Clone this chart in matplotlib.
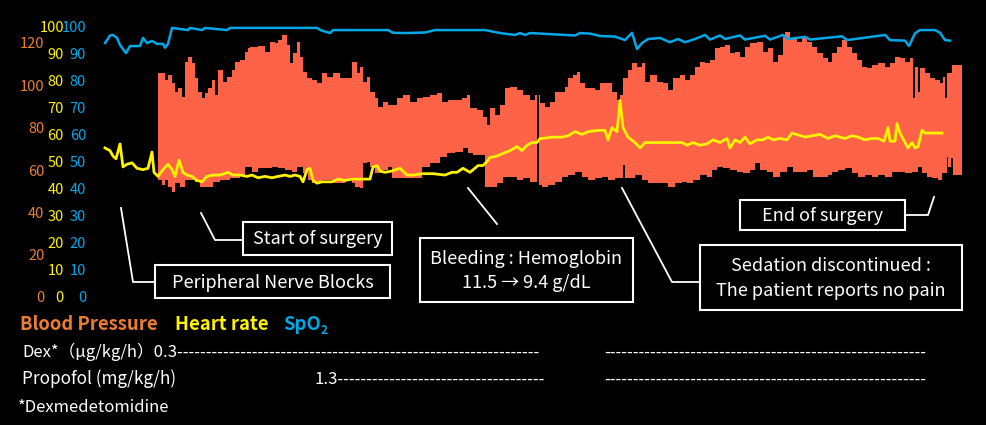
import numpy as np
import matplotlib.pyplot as plt
from matplotlib.lines import Line2D
from matplotlib.patches import Rectangle

plt.rcParams['font.family'] = ['Noto Sans CJK JP', 'DejaVu Sans']

# time (arbitrary units along the record)
hr_t = [0, 5, 8, 11, 15, 18, 22, 27, 32, 38, 43, 47, 49, 53, 58, 63, 67, 70, 74, 78,
        82, 87, 92, 97, 102, 108, 115, 123, 128, 135, 142, 147, 153, 160, 167, 173, 180, 185, 190, 195,
        198, 202, 205, 208, 212, 217, 227, 233, 240, 247, 253, 265, 268, 272, 275, 280, 287, 295, 302, 308,
        317, 328, 340, 347, 352, 358, 365, 373, 378, 382, 385, 392, 398, 405, 412, 417, 422, 427, 432, 435,
        437, 447, 457, 463, 470, 477, 483, 493, 500, 503, 507, 512, 515, 518, 523, 530, 535, 540, 550, 563,
        577, 582, 588, 595, 602, 608, 615, 622, 625, 630, 635, 640, 645, 652, 658, 663, 668, 675, 682, 687,
        693, 700, 707, 715, 723, 730, 740, 747, 753, 760, 767, 773, 779, 783, 785, 790, 792, 795, 800, 803,
        807, 810, 813, 817, 820, 837]
heart_rate = [55, 54, 52, 51, 56.5, 48, 49, 49.5, 47.5, 47, 47.5, 53.5, 46, 44.5, 47, 49, 47, 44.5, 50.5, 46,
              45, 44.5, 43, 42.5, 44.5, 45, 45, 46, 45, 45, 44.5, 45, 44, 44.5, 44, 44.5, 45, 44.5, 45, 44.5,
              42.5, 47, 47.5, 43, 42, 42.5, 42.5, 43.5, 43, 43.5, 43.5, 43.5, 48, 48.5, 46.5, 46, 46.5, 47.5, 45, 45,
              45.5, 45.5, 45, 46, 46, 47.5, 46, 48.5, 48.5, 50, 51.5, 52, 53, 54, 55.5, 54, 56, 57, 57, 58.5,
              58.5, 59, 59, 59.5, 61, 60, 61, 61.5, 61.5, 58, 62.5, 61, 72.5, 62.5, 59, 57, 55, 57, 57, 57,
              57, 56, 57, 56, 56.5, 58, 57, 58.5, 55, 58, 57, 59, 56.5, 58, 58, 59, 58, 58.5, 58, 60.5,
              59.8, 59, 59.5, 60, 58.5, 59.5, 58.5, 59.5, 59, 58, 58.5, 58.5, 57.5, 62.5, 57.5, 57.5, 64, 60.5, 57, 55,
              57, 55, 55.5, 61.5, 60.5, 60.5]

spo2_t = [0, 5, 8, 12, 15, 21, 25, 35, 38, 42, 47, 52, 58, 60, 63, 67, 83, 85, 97, 100,
          122, 125, 212, 216, 225, 228, 283, 288, 300, 320, 330, 380, 395, 410, 415, 420, 425, 470, 475, 485,
          495, 510, 520, 527, 532, 537, 543, 555, 565, 573, 580, 590, 600, 605, 615, 620, 635, 640, 660, 665,
          678, 683, 700, 705, 737, 742, 780, 785, 800, 804, 810, 815, 830, 835, 840, 845]
spo2 = [93.7, 96.5, 96.7, 95.6, 93, 90, 92.6, 92.6, 95.6, 93.7, 94.5, 93.4, 93.4, 92, 93.4, 99.3, 98.5, 99.3, 98.5, 99.3,
        98.5, 99.3, 99.3, 98.4, 97.4, 98.5, 98.5, 97.5, 97.4, 97.6, 98.5, 98.5, 97.4, 96.7, 97.4, 96.7, 97.4, 96.5, 97.4, 97.2,
        96.3, 96.1, 94.8, 97.5, 91.5, 93.7, 95.2, 95.6, 94, 95.2, 94, 95.2, 96.7, 95, 96.5, 95.2, 96.5, 95, 96.4, 95,
        96.7, 95.2, 96, 95, 96.2, 94.8, 96.7, 94.8, 94.6, 92.6, 97.3, 98.5, 98.5, 97.5, 94.8, 94.6]

sys_t = [53, 60, 63, 67, 70, 73, 77, 80, 83, 87, 90, 93, 97, 100, 103, 107, 110, 113, 118, 122,
         127, 130, 135, 140, 143, 145, 153, 160, 165, 170, 173, 177, 182, 185, 188, 192, 195, 198, 202, 207,
         212, 217, 222, 228, 235, 247, 252, 255, 258, 262, 265, 270, 273, 278, 283, 292, 298, 305, 312, 318,
         325, 332, 337, 343, 357, 362, 365, 372, 378, 382, 385, 390, 395, 400, 405, 412, 418, 425, 430, 432,
         433, 434, 435, 440, 445, 450, 460, 463, 468, 472, 475, 480, 490, 495, 507, 512, 515, 518, 523, 527,
         532, 537, 540, 545, 552, 558, 563, 568, 575, 580, 585, 590, 595, 600, 605, 610, 615, 620, 625, 630,
         635, 640, 645, 652, 658, 663, 668, 673, 678, 680, 685, 692, 697, 702, 707, 712, 718, 723, 727, 732,
         737, 742, 747, 752, 757, 762, 767, 773, 780, 785, 790, 795, 800, 805, 808, 810, 813, 815, 820, 825,
         830, 835, 838, 840, 842, 847, 857]
systolic = [105.8, 102.5, 104.9, 101.1, 96.8, 98.7, 94.5, 111, 113.4, 110.5, 103.5, 96.8, 94, 96.4, 98.7, 102.5, 95.4, 107.2, 101.6, 103.9,
            107.2, 111, 112, 115.6, 117.6, 118.1, 118.6, 115.7, 120.5, 120, 121.4, 123.8, 119, 110.5, 115.3, 120.5, 113.4, 106.3, 103.5, 102.5,
            101.1, 105.8, 103.9, 105.8, 103.5, 111, 105.8, 108.7, 101.6, 103.9, 96.8, 94, 89.8, 92.1, 90.7, 94, 95.4, 92.1, 94, 94.5,
            95.4, 96.4, 92.1, 93.1, 94, 95.4, 89.3, 88.3, 85, 81.3, 89.3, 86, 90.7, 98.7, 99.2, 97.8, 95.4, 93.1, 95.4, 95.4,
            np.nan, 95.4, 91.6, 89.8, 92.1, 96.8, 99.2, 103.5, 104.9, 106.3, 101.1, 98.7, 97.8, 101.1, 96.8, 93.1, 95.4, 103.5, 107.2, 110.5,
            108.7, 110.5, 101.6, 104.9, 101.6, 101.1, 97.8, 103.5, 104.9, 102.5, 104.9, 108.7, 111, 110.5, 112, 117.6, 118.1, 119, 115.3, 115.7,
            113.4, 118.1, 120, 120.5, 115.7, 117.6, 111, 114.3, 122.8, 125.2, 122.3, 120.5, 122.3, 120.5, 118.1, 115.3, 112.9, 111, 115.3, 118.1,
            121.4, 118.1, 115.3, 112, 108.7, 108.2, 109.6, 110.5, 108.7, 110.5, 113.4, 112.9, 111, 112.9, 94, 108.7, 96.8, 108.2, 105.8, 103.5,
            102.5, 101.1, 103.9, 94, 105.8, 109.6, 109.6]

dia_t = [53, 57, 60, 63, 67, 70, 75, 80, 90, 95, 108, 115, 125, 135, 140, 147, 153, 167, 173, 180,
         187, 192, 198, 203, 207, 217, 227, 240, 247, 250, 255, 258, 262, 265, 270, 277, 283, 287, 317, 325,
         335, 342, 350, 358, 363, 368, 380, 392, 398, 412, 418, 425, 432, 437, 443, 450, 457, 463, 470, 477,
         483, 490, 497, 503, 510, 518, 520, 530, 537, 543, 563, 570, 577, 582, 588, 595, 602, 607, 612, 618,
         625, 632, 638, 645, 650, 655, 662, 668, 675, 682, 688, 702, 708, 723, 727, 733, 740, 747, 753, 760,
         767, 773, 780, 787, 800, 807, 813, 817, 822, 827, 833, 837, 842, 843, 846, 848, 857]
diastolic = [55.3, 52.9, 55.3, 52, 49.6, 53.9, 52, 55.3, 54.3, 52, 54.3, 55.3, 56.2, 57.6, 61.4, 59, 60.9, 61.4, 60.9, 60,
             59, 61.4, 58.6, 55.3, 53.9, 55.3, 53.9, 55.3, 53.9, 52, 51.5, 63.3, 63.8, 61.4, 58.6, 60, 61.4, 56.2, 61.4, 63.3,
             66.1, 68, 68.5, 70.4, 68, 67.1, 52, 53.9, 56.7, 55.3, 56.2, 54.3, 52.9, 52, 52.9, 54.3, 56.7, 57.6, 59, 56.7,
             55.3, 56.2, 56.7, 55.3, 56.2, 62.4, 56.2, 57.6, 55.3, 53.9, 52, 53.9, 54.3, 53.9, 55.3, 57.6, 56.7, 60, 61.4, 60.9,
             60, 59, 58.6, 60, 63.3, 60, 59, 56.7, 59, 61.4, 59, 60, 56.7, 57.6, 59, 60, 60.9, 58.6, 56.7, 57.6,
             56.7, 57.6, 56.7, 59, 58.6, 59, 61.4, 58.6, 56.7, 56.2, 55.3, 58.6, 66.1, 61.4, 65.7, 57.6, 57.6]

bp_ticks = [0, 20, 40, 60, 80, 100, 120]
hr_ticks = [0, 10, 20, 30, 40, 50, 60, 70, 80, 90, 100]

c_bp_text = '#ED7D31'
c_fill = '#FF6347'
c_hr = '#FFF200'
c_spo2 = '#00A8E8'

W, H = 986, 425


def fx(x):
    return x / W


def fy(y):
    return 1 - y / H


fig = plt.figure(figsize=(9.86, 4.25), dpi=100, facecolor='black')
ax = fig.add_axes([fx(100), fy(297), fx(970) - fx(100), fy(26) - fy(297)])
ax.set_facecolor('black')

# blood pressure band: red up to systolic, black up to diastolic
ax.fill_between(sys_t, 0, systolic, step='post', color=c_fill, lw=0)
ax.fill_between(dia_t, 0, diastolic, step='post', color='black', lw=0)
ax.set_ylim(0, 120 * 271 / 254)
ax.set_xlim(-5, 865)
ax.set_yticks(bp_ticks)

ax_hr = ax.twinx()
ax_hr.yaxis.tick_left()
ax_hr.plot(hr_t, heart_rate, color=c_hr, lw=2.0)
ax_hr.set_ylim(0, 100)
ax_hr.set_yticks(hr_ticks)

ax_sp = ax.twinx()
ax_sp.yaxis.tick_left()
ax_sp.plot(spo2_t, spo2, color=c_spo2, lw=1.8)
ax_sp.set_ylim(0, 100)
ax_sp.set_yticks(hr_ticks)

for a, col, pad in [(ax, c_bp_text, 40), (ax_hr, c_hr, 26), (ax_sp, c_spo2, 10)]:
    a.set_xticks([])
    a.tick_params(axis='y', length=0, pad=pad, labelcolor=col, labelsize=10.5)
    for s in a.spines.values():
        s.set_visible(False)

# call-out boxes
boxes = [
    ((155, 265, 390, 298), 'Peripheral Nerve Blocks', [(121, 208), (133, 282), (155, 282)]),
    ((243, 222, 392, 255), 'Start of surgery', [(201, 213), (215, 240), (243, 240)]),
    ((420, 238, 633, 302), 'Bleeding : Hemoglobin\n11.5 → 9.4 g/dL', [(468, 188), (497, 224)]),
    ((700, 245, 962, 310), 'Sedation discontinued :\nThe patient reports no pain', [(622, 188), (672, 282), (700, 282)]),
    ((740, 200, 905, 230), 'End of surgery', [(905, 215), (928, 215), (934, 197)]),
]
for (x0, y0, x1, y1), label, pts in boxes:
    fig.add_artist(Line2D([fx(p[0]) for p in pts], [fy(p[1]) for p in pts],
                          color='white', lw=1.3, zorder=5))
    fig.add_artist(Rectangle((fx(x0), fy(y1)), fx(x1) - fx(x0), fy(y0) - fy(y1),
                             facecolor='black', edgecolor='white', lw=1.5, zorder=6))
    fig.text(fx((x0 + x1) / 2), fy((y0 + y1) / 2 + 1), label, color='white', fontsize=13,
             ha='center', va='center', linespacing=1.45, zorder=7)

# legend row
fig.text(fx(20), fy(324), 'Blood Pressure', color=c_bp_text, fontsize=13.3, fontweight='bold', va='center')
fig.text(fx(175), fy(324), 'Heart rate', color=c_hr, fontsize=13.3, fontweight='bold', va='center')
fig.text(fx(283), fy(324), 'SpO', color=c_spo2, fontsize=13.3, fontweight='bold', va='center')
fig.text(fx(321), fy(330), '2', color=c_spo2, fontsize=8.5, fontweight='bold', va='center')

# drug rows
fig.text(fx(22), fy(352), 'Dex*（μg/kg/h）0.3' + '-' * 63, color='white', fontsize=12, va='center')
fig.text(fx(604), fy(352), '-' * 56, color='white', fontsize=12, va='center')
fig.text(fx(22), fy(379), 'Propofol (mg/kg/h)', color='white', fontsize=12.3, va='center')
fig.text(fx(315), fy(379), '1.3' + '-' * 36, color='white', fontsize=12, va='center')
fig.text(fx(604), fy(379), '-' * 56, color='white', fontsize=12, va='center')
fig.text(fx(18), fy(407), '*Dexmedetomidine', color='white', fontsize=12, va='center')

fig.savefig('out.png', dpi=100, facecolor='black')
